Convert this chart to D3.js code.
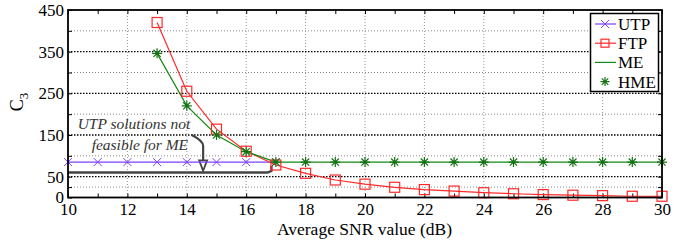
<!DOCTYPE html>
<html><head><meta charset="utf-8">
<script src="https://cdn.jsdelivr.net/npm/d3@7"></script>
<style>
body{margin:0;background:#fff;}
svg text{font-family:"Liberation Serif","Times New Roman",serif;}
</style></head>
<body><svg id="c" width="691" height="240"></svg>
<script>
const snr = [10,11,12,13,14,15,16,17,18,19,20,21,22,23,24,25,26,27,28,29,30];
const utpX = [10,11,12,13,14,15,16,17];
const utpY = [85,85,85,85,85,85,85,85];
const ftpX = [13,14,15,16,17,18,19,20,21,22,23,24,25,26,27,28,29,30];
const ftpY = [420,255,164,111,78,58,42,32,24.5,19,15.5,11.5,9,7,5.5,4.5,3,3];
const meX = [13,14,15,16,17,18,19,20,21,22,23,24,25,26,27,28,29,30];
const meY = [346,220,150,110,85,85,85,85,85,85,85,85,85,85,85,85,85,85];
const yTickLabels = [0,50,150,250,350,450];
const yGrid = [25,50,100,150,200,250,300,350,400];
const yGridBold = [50,150,250,350];
const xTickLabels = [10,12,14,16,18,20,22,24,26,28,30];
const legendNames = ["UTP","FTP","ME","HME"];
const annoText = ["UTP solutions not","feasible for ME"];

const FONT="Liberation Serif, Times New Roman, serif";
const colUTP="#7f3fff", colFTP="#ff2a2a", colME="#138a13", colHME="#137313";
const svg=d3.select("#c");
const L=68,R=662,T=10,B=197.5;
const x=d3.scaleLinear().domain([10,30]).range([L,R]);
const y=d3.scaleLinear().domain([0,450]).range([B,T]);

// grid
const g=svg.append("g");
g.selectAll(".vg").data(xTickLabels.filter(d=>d>10&&d<30)).enter().append("line")
 .attr("x1",d=>x(d)).attr("x2",d=>x(d)).attr("y1",T).attr("y2",B)
 .attr("stroke","#999").attr("stroke-width",1).attr("stroke-dasharray","1,2");
g.selectAll(".hg").data(yGrid).enter().append("line")
 .attr("x1",L).attr("x2",R).attr("y1",d=>y(d)).attr("y2",d=>y(d))
 .attr("stroke",d=>yGridBold.includes(d)?"#000":"#888")
 .attr("stroke-width",d=>yGridBold.includes(d)?1.3:1)
 .attr("stroke-dasharray",d=>yGridBold.includes(d)?"1.5,1.5":"1,2");

// axes: tick marks (no labels)
const yTicks=[0].concat(yGrid,[450]);
function ticksOnly(sel){sel.select(".domain").remove();sel.selectAll("text").remove();sel.selectAll("line").attr("stroke","#000").attr("stroke-width",1);}
svg.append("g").attr("transform",`translate(0,${B})`).call(d3.axisBottom(x).tickValues(snr).tickSize(-4)).call(ticksOnly);
svg.append("g").attr("transform",`translate(0,${T})`).call(d3.axisTop(x).tickValues(snr).tickSize(-4)).call(ticksOnly);
svg.append("g").attr("transform",`translate(${L},0)`).call(d3.axisLeft(y).tickValues(yTicks).tickSize(-4)).call(ticksOnly);
svg.append("g").attr("transform",`translate(${R},0)`).call(d3.axisRight(y).tickValues(yTicks).tickSize(-4)).call(ticksOnly);
// axes: labels
function labelsOnly(sel){sel.select(".domain").remove();sel.selectAll("line").remove();
 sel.attr("font-family",FONT).attr("font-size",17);
 sel.selectAll("text").attr("fill","#000").attr("font-family",FONT).attr("font-size",17);}
svg.append("g").attr("transform",`translate(0,${B})`).call(d3.axisBottom(x).tickValues(xTickLabels).tickSize(0).tickPadding(2)).call(labelsOnly)
 .selectAll("text").attr("dy","0.92em");
svg.append("g").attr("transform",`translate(${L},0)`).call(d3.axisLeft(y).tickValues(yTickLabels).tickSize(0).tickPadding(4)).call(labelsOnly);

// annotation bracket + arrow
const bracket=[[10,60],[16.7,60],[16.85,64]];
const ann=svg.append("g");
ann.append("path").attr("d",d3.line().curve(d3.curveMonotoneX).x(d=>x(d[0])).y(d=>y(d[1]))(bracket) + `L${x(16.85)},${y(76)}`)
 .attr("fill","none").attr("stroke","#444").attr("stroke-width",2.4);
const aS=[14.165,150], aC=[14.55,136], aE=[14.55,88];
const ap=d3.path(); ap.moveTo(x(aS[0]),y(aS[1])); ap.quadraticCurveTo(x(aC[0]),y(aC[1]),x(aC[0]),y(aC[1]-12)); ap.lineTo(x(aE[0]),y(aE[1]));
ann.append("path").attr("d",ap.toString()).attr("fill","none").attr("stroke","#444").attr("stroke-width",2.2);
const tip=[x(14.55),y(64)];
ann.append("path").attr("d",`M${tip[0]},${tip[1]} L${tip[0]-4},${tip[1]-10.5} L${tip[0]+4},${tip[1]-10.5} Z`)
 .attr("fill","#fff").attr("stroke","#444").attr("stroke-width",1.8);
ann.selectAll("text").data(annoText).enter().append("text")
 .attr("x",(d,i)=>x(i?12.42:12.22)).attr("y",(d,i)=>y(i?114:164))
 .attr("text-anchor","middle").attr("font-family",FONT).attr("font-style","italic").attr("font-size",15.5).attr("fill","#333").text(d=>d);

// series
const line=d3.line().x(d=>x(d[0])).y(d=>y(d[1]));
const utp=d3.zip(utpX,utpY), ftp=d3.zip(ftpX,ftpY), me=d3.zip(meX,meY);
svg.append("path").attr("d",line(utp)).attr("fill","none").attr("stroke",colUTP).attr("stroke-width",1.2);
svg.append("path").attr("d",line(ftp)).attr("fill","none").attr("stroke",colFTP).attr("stroke-width",1.2);
svg.append("path").attr("d",line(me)).attr("fill","none").attr("stroke",colME).attr("stroke-width",1.2);

function xMark(sel,cx,cy,s,c){sel.append("path").attr("d",`M${cx-s},${cy-s}L${cx+s},${cy+s}M${cx-s},${cy+s}L${cx+s},${cy-s}`).attr("stroke",c).attr("stroke-width",1);}
function sqMark(sel,cx,cy,s,c){sel.append("rect").attr("x",cx-s).attr("y",cy-s).attr("width",2*s).attr("height",2*s).attr("fill","none").attr("stroke",c).attr("stroke-width",1.2);}
function starMark(sel,cx,cy,s,c){const d=s*0.72;sel.append("path").attr("d",`M${cx-s},${cy}L${cx+s},${cy}M${cx},${cy-s}L${cx},${cy+s}M${cx-d},${cy-d}L${cx+d},${cy+d}M${cx-d},${cy+d}L${cx+d},${cy-d}`).attr("stroke",c).attr("stroke-width",1.2);}
const mk=svg.append("g");
utp.forEach(p=>xMark(mk,x(p[0]),y(p[1]),4,colUTP));
ftp.forEach(p=>sqMark(mk,x(p[0]),y(p[1]),5,colFTP));
me.forEach(p=>starMark(mk,x(p[0]),y(p[1]),5,colHME));

// frame
svg.append("rect").attr("x",L).attr("y",T).attr("width",R-L).attr("height",B-T).attr("fill","none").attr("stroke","#000").attr("stroke-width",1.8);

// legend
const lg=svg.append("g");
lg.append("rect").attr("x",590.5).attr("y",13.5).attr("width",68).attr("height",78).attr("fill","#fff").attr("stroke","#000").attr("stroke-width",1.5);
legendNames.forEach((n,i)=>{
 const cy=24+i*19.2, cx=605;
 if(i<3) lg.append("line").attr("x1",595).attr("x2",616).attr("y1",cy).attr("y2",cy).attr("stroke",[colUTP,colFTP,colME][i]).attr("stroke-width",1.2);
 if(i==0) xMark(lg,cx,cy,4,colUTP);
 if(i==1) sqMark(lg,cx,cy,4,colFTP);
 if(i==3) starMark(lg,cx,cy,4.5,colHME);
 lg.append("text").attr("x",618).attr("y",cy).attr("dy","0.35em").attr("font-family",FONT).attr("font-size",17).text(n);
});

// axis labels
svg.append("text").attr("x",364.5).attr("y",234.5).attr("text-anchor","middle").attr("font-family",FONT).attr("font-size",17.5).text("Average SNR value (dB)");
const yl2=svg.append("text").attr("transform","translate(23,102) rotate(-90)").attr("text-anchor","middle").attr("font-family",FONT).attr("font-size",18);
yl2.append("tspan").text("C");
yl2.append("tspan").attr("font-size",13).attr("dy",5).text("3");
</script></body></html>
